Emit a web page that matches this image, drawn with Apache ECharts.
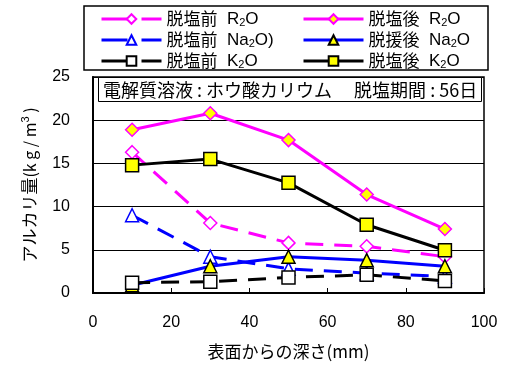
<!DOCTYPE html>
<html>
<head>
<meta charset="utf-8">
<script src="https://cdn.jsdelivr.net/npm/echarts@6/dist/echarts.min.js"></script>
<style>
  html, body { margin: 0; padding: 0; background: #fff; }
  #chart { width: 505px; height: 365px; }
</style>
</head>
<body>
<div id="chart"></div>
<script>
// Depth from surface (mm) and alkali content (kg/m3)
const depth = [10, 30, 50, 70, 90];
const r2oBefore = [16.3, 8.1, 5.8, 5.4, 4.2];
const r2oAfter = [18.9, 20.8, 17.7, 11.4, 7.4];
const na2oBefore = [9.0, 4.2, 2.8, 2.3, 1.9];
const na2oAfter = [0.9, 3.1, 4.2, 3.8, 3.1];
const k2oBefore = [1.2, 1.3, 1.8, 2.1, 1.4];
const k2oAfter = [14.8, 15.5, 12.75, 7.9, 4.95];

const xTicks = [0, 20, 40, 60, 80, 100];
const yTicks = [0, 5, 10, 15, 20, 25];

const JP = '"Noto Sans CJK JP", sans-serif';
const NUM = '"Liberation Sans", Arial, sans-serif';

const pairs = (ys) => depth.map((x, i) => [x, ys[i]]);

// Legend labels with subscript digits
const legendRich = {
  j: { fontFamily: JP, fontSize: 17, lineHeight: 18, color: '#000' },
  n: { fontFamily: NUM, fontSize: 17, lineHeight: 18, color: '#000' },
  s: { fontFamily: NUM, fontSize: 11, lineHeight: 18, color: '#000', verticalAlign: 'bottom', padding: [7, 0, 0, 0] }
};
const legendText = {
  'before-R': '{j|脱塩前}{n|  R}{s|2}{n|O}',
  'after-R': '{j|脱塩後}{n|  R}{s|2}{n|O}',
  'before-Na': '{j|脱塩前}{n|  Na}{s|2}{n|O)}',
  'after-Na': '{j|脱援後}{n|  Na}{s|2}{n|O}',
  'before-K': '{j|脱塩前}{n|  K}{s|2}{n|O}',
  'after-K': '{j|脱塩後}{n|  K}{s|2}{n|O}'
};

function series(name, data, color, dashed, symbol, filled, size) {
  return {
    name: name,
    type: 'line',
    data: pairs(data),
    symbol: symbol,
    symbolSize: size,
    showSymbol: true,
    lineStyle: { color: color, width: 3, type: dashed ? [18, 11] : 'solid' },
    itemStyle: {
      color: filled ? '#FFFF00' : '#FFFFFF',
      borderColor: filled ? (color === '#FF00FF' ? '#FF00FF' : '#000') : color,
      borderWidth: 1.5
    },
    emphasis: { disabled: true },
    animation: false
  };
}

const legendBase = {
  orient: 'vertical', top: 5,
  itemWidth: 60, itemHeight: 12, itemGap: 3,
  formatter: (n) => legendText[n],
  textStyle: { rich: legendRich }
};

const chart = echarts.init(document.getElementById('chart'), null, { renderer: 'canvas' });

chart.setOption({
  backgroundColor: '#fff',
  animation: false,
  title: {
    text: '電解質溶液 : ホウ酸カリウム　 脱塩期間 : 56日',
    left: 98, top: 77,
    padding: [4, 5, 3, 5],
    borderColor: '#000', borderWidth: 1,
    backgroundColor: '#fff',
    textStyle: { fontFamily: JP, fontSize: 18, fontWeight: 'normal', color: '#000' }
  },
  graphic: [{
    type: 'rect',
    shape: { x: 84, y: 6, width: 404, height: 64 },
    style: { fill: '#fff', stroke: '#000', lineWidth: 1.5 },
    z: -1, silent: true
  }],
  legend: [
    Object.assign({ left: 95, data: ['before-R', 'before-Na', 'before-K'], lineStyle: { width: 3, type: [26, 14] } }, legendBase),
    Object.assign({ left: 297, data: ['after-R', 'after-Na', 'after-K'], lineStyle: { width: 3 } }, legendBase)
  ],
  grid: {
    left: 93, right: 21, top: 77, bottom: 71,
    show: true, borderColor: '#000', borderWidth: 1.5
  },
  xAxis: {
    type: 'value', min: xTicks[0], max: xTicks[xTicks.length - 1], interval: 20,
    name: '表面からの深さ(mm)', nameLocation: 'middle', nameGap: 50,
    nameTextStyle: { fontFamily: JP, fontSize: 17, color: '#000' },
    axisLine: { lineStyle: { color: '#000', width: 2 } },
    axisTick: { inside: true, length: 5, lineStyle: { color: '#000' } },
    axisLabel: { fontFamily: NUM, fontSize: 16, color: '#000', margin: 22 },
    splitLine: { show: false }
  },
  yAxis: {
    type: 'value', min: yTicks[0], max: yTicks[yTicks.length - 1], interval: 5,
    name: '{j|アルカリ量}{n|(k g / m}{s|3}{n| )}', nameLocation: 'middle', nameGap: 54, nameRotate: 90,
    nameTextStyle: {
      rich: {
        j: { fontFamily: JP, fontSize: 17, color: '#000' },
        n: { fontFamily: JP, fontSize: 16, color: '#000' },
        s: { fontFamily: NUM, fontSize: 11, color: '#000', verticalAlign: 'top', padding: [0, 0, 8, 0] }
      }
    },
    axisLine: { show: true, lineStyle: { color: '#000', width: 2 } },
    axisTick: { show: true, inside: true, length: 5, lineStyle: { color: '#000' } },
    axisLabel: { fontFamily: NUM, fontSize: 16, color: '#000', margin: 23 },
    splitLine: { show: true, lineStyle: { color: '#000', width: 1 } }
  },
  series: [
    series('before-R', r2oBefore, '#FF00FF', true, 'diamond', false, 13),
    series('after-R', r2oAfter, '#FF00FF', false, 'diamond', true, 13),
    series('before-Na', na2oBefore, '#0000FF', true, 'triangle', false, 13),
    series('after-Na', na2oAfter, '#0000FF', false, 'triangle', true, 13),
    series('before-K', k2oBefore, '#000000', true, 'rect', false, 13),
    series('after-K', k2oAfter, '#000000', false, 'rect', true, 13)
  ]
});
</script>
</body>
</html>
